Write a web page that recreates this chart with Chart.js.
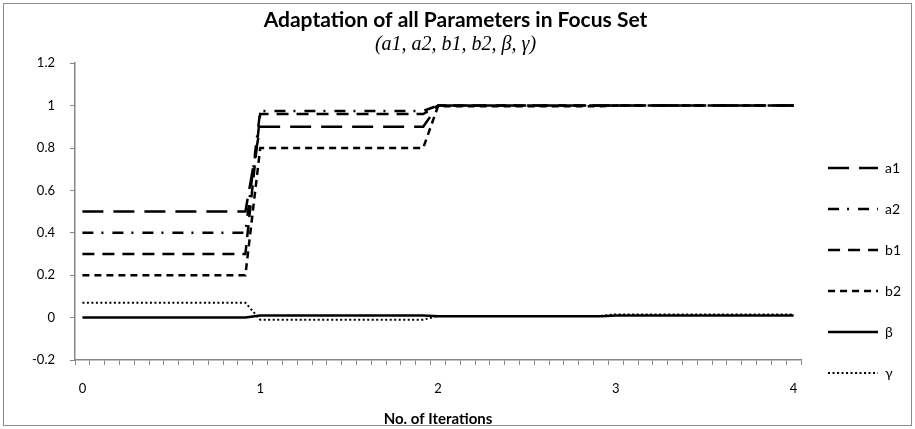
<!DOCTYPE html>
<html>
<head>
<meta charset="utf-8">
<script src="https://cdn.jsdelivr.net/npm/chart.js@4"></script>
<style>
  body { margin: 0; background: #fff; }
  #wrap { position: relative; width: 915px; height: 429px; }
  #frame { position: absolute; left: 3px; top: 3px; width: 907px; height: 421px; border: 1px solid #8c8c8c; pointer-events: none; }
</style>
</head>
<body>
<div id="wrap">
  <canvas id="adaptChart" width="915" height="429"></canvas>
  <div id="frame"></div>
</div>
<script>
// 12 steps per iteration, iterations 0..4
const steps = [0, 1, 2, 3, 4, 5, 6, 7, 8, 9, 10, 11,
    12, 13, 14, 15, 16, 17, 18, 19, 20, 21, 22, 23,
    24, 25, 26, 27, 28, 29, 30, 31, 32, 33, 34, 35,
    36, 37, 38, 39, 40, 41, 42, 43, 44, 45, 46, 47, 48];
const tickLabels = ['0', '1', '2', '3', '4'];
const stepsPerIteration = 12;

const a1 = [0.5, 0.5, 0.5, 0.5, 0.5, 0.5, 0.5, 0.5, 0.5, 0.5, 0.5, 0.5,
    0.9, 0.9, 0.9, 0.9, 0.9, 0.9, 0.9, 0.9, 0.9, 0.9, 0.9, 0.9,
    1, 1, 1, 1, 1, 1, 1, 1, 1, 1, 1, 1,
    1, 1, 1, 1, 1, 1, 1, 1, 1, 1, 1, 1, 1];
const a2 = [0.4, 0.4, 0.4, 0.4, 0.4, 0.4, 0.4, 0.4, 0.4, 0.4, 0.4, 0.4,
    0.975, 0.975, 0.975, 0.975, 0.975, 0.975, 0.975, 0.975, 0.975, 0.975, 0.975, 0.975,
    1, 1, 1, 1, 1, 1, 1, 1, 1, 1, 1, 1,
    1, 1, 1, 1, 1, 1, 1, 1, 1, 1, 1, 1, 1];
const b1 = [0.3, 0.3, 0.3, 0.3, 0.3, 0.3, 0.3, 0.3, 0.3, 0.3, 0.3, 0.3,
    0.96, 0.96, 0.96, 0.96, 0.96, 0.96, 0.96, 0.96, 0.96, 0.96, 0.96, 0.96,
    1, 1, 1, 1, 1, 1, 1, 1, 1, 1, 1, 1,
    1, 1, 1, 1, 1, 1, 1, 1, 1, 1, 1, 1, 1];
const b2 = [0.2, 0.2, 0.2, 0.2, 0.2, 0.2, 0.2, 0.2, 0.2, 0.2, 0.2, 0.2,
    0.8, 0.8, 0.8, 0.8, 0.8, 0.8, 0.8, 0.8, 0.8, 0.8, 0.8, 0.8,
    0.997, 0.997, 0.997, 0.997, 0.997, 0.997, 0.997, 0.997, 0.997, 0.997, 0.997, 0.997,
    1, 1, 1, 1, 1, 1, 1, 1, 1, 1, 1, 1, 1];
const beta = [0, 0, 0, 0, 0, 0, 0, 0, 0, 0, 0, 0,
    0.01, 0.01, 0.01, 0.01, 0.01, 0.01, 0.01, 0.01, 0.01, 0.01, 0.01, 0.01,
    0.006, 0.006, 0.006, 0.006, 0.006, 0.006, 0.006, 0.006, 0.006, 0.006, 0.006, 0.006,
    0.01, 0.01, 0.01, 0.01, 0.01, 0.01, 0.01, 0.01, 0.01, 0.01, 0.01, 0.01, 0.01];
const gamma = [0.07, 0.07, 0.07, 0.07, 0.07, 0.07, 0.07, 0.07, 0.07, 0.07, 0.07, 0.07,
    -0.01, -0.01, -0.01, -0.01, -0.01, -0.01, -0.01, -0.01, -0.01, -0.01, -0.01, -0.01,
    0.008, 0.008, 0.008, 0.008, 0.008, 0.008, 0.008, 0.008, 0.008, 0.008, 0.008, 0.008,
    0.015, 0.015, 0.015, 0.015, 0.015, 0.015, 0.015, 0.015, 0.015, 0.015, 0.015, 0.015, 0.015];

const yTicks = { min: -0.2, max: 1.2, step: 0.2 };

const axisGray = '#868686';
const font = 'Lato';

function series(label, data, dash, width) {
    return {
        label: label,
        data: data,
        borderColor: '#000',
        backgroundColor: '#000',
        borderWidth: width || 2.5,
        borderDash: dash,
        borderCapStyle: 'butt',
        pointRadius: 0,
        fill: false,
        tension: 0
    };
}

// little dashed line pictures for the legend
function swatch(dash, width) {
    const c = document.createElement('canvas');
    c.width = 50;
    c.height = 6;
    const g = c.getContext('2d');
    g.strokeStyle = '#000';
    g.lineWidth = width;
    g.setLineDash(dash);
    g.beginPath();
    g.moveTo(0, 3);
    g.lineTo(50, 3);
    g.stroke();
    return c;
}

// push the legend down to where the original sits
const legendShift = {
    id: 'legendShift',
    afterLayout(chart) {
        chart.legend.top += 56;
        chart.legend.bottom += 56;
    }
};

Chart.defaults.color = '#000';
Chart.defaults.font.family = font;

const datasets = [
    series('a1', a1, [21, 10]),
    series('a2', a2, [11, 8, 2, 9]),
    series('b1', b1, [12, 8]),
    series('b2', b2, [7, 5]),
    series('β', beta, []),
    series('γ', gamma, [2, 2.5], 2)
];

const ctx = document.getElementById('adaptChart').getContext('2d');
const adaptChart = new Chart(ctx, {
    type: 'line',
    data: {
        labels: steps,
        datasets: datasets
    },
    plugins: [legendShift],
    options: {
        responsive: false,
        animation: false,
        layout: {
            padding: { left: 0, right: 4, top: 0, bottom: 0 }
        },
        plugins: {
            title: {
                display: true,
                text: 'Adaptation of all Parameters in Focus Set',
                font: { family: font, size: 21, weight: 'bold' },
                color: '#000',
                padding: { top: 8, bottom: 0 }
            },
            subtitle: {
                display: true,
                text: '(a1, a2, b1, b2, β, γ)',
                font: { family: 'Liberation Serif', size: 20, style: 'italic' },
                color: '#000',
                padding: { top: 0, bottom: 6 }
            },
            legend: {
                position: 'right',
                labels: {
                    usePointStyle: true,
                    pointStyleWidth: 50,
                    padding: 27,
                    font: { family: font, size: 14 },
                    color: '#000',
                    generateLabels: function (chart) {
                        const items = Chart.defaults.plugins.legend.labels.generateLabels(chart);
                        return items.map(function (item, i) {
                            const ds = chart.data.datasets[i];
                            item.pointStyle = swatch(ds.borderDash, ds.borderWidth);
                            return item;
                        });
                    }
                }
            },
            tooltip: { enabled: false }
        },
        scales: {
            x: {
                type: 'category',
                offset: true,
                grid: {
                    offset: true,
                    drawOnChartArea: false,
                    drawTicks: true,
                    tickLength: 5,
                    tickColor: axisGray
                },
                border: { color: axisGray, width: 1.5 },
                ticks: {
                    autoSkip: false,
                    maxRotation: 0,
                    padding: 17,
                    font: { family: font, size: 13, lineHeight: 1 },
                    color: '#000',
                    callback: function (value, index) {
                        return index % stepsPerIteration === 0 ? tickLabels[index / stepsPerIteration] : '';
                    }
                },
                title: {
                    display: true,
                    text: 'No. of Iterations',
                    font: { family: font, size: 15, weight: 'bold', lineHeight: 1 },
                    color: '#000',
                    padding: { top: 0, bottom: 2 }
                }
            },
            y: {
                min: yTicks.min,
                max: yTicks.max,
                grid: {
                    drawOnChartArea: false,
                    drawTicks: true,
                    tickLength: 5,
                    tickColor: axisGray
                },
                border: { color: axisGray, width: 1.5 },
                ticks: {
                    stepSize: yTicks.step,
                    padding: 15,
                    font: { family: font, size: 13 },
                    color: '#000',
                    callback: function (value) {
                        return Math.round(value * 10) / 10;
                    }
                },
                afterFit: function (scale) {
                    scale.width = 75;
                }
            }
        }
    }
});
</script>
</body>
</html>
